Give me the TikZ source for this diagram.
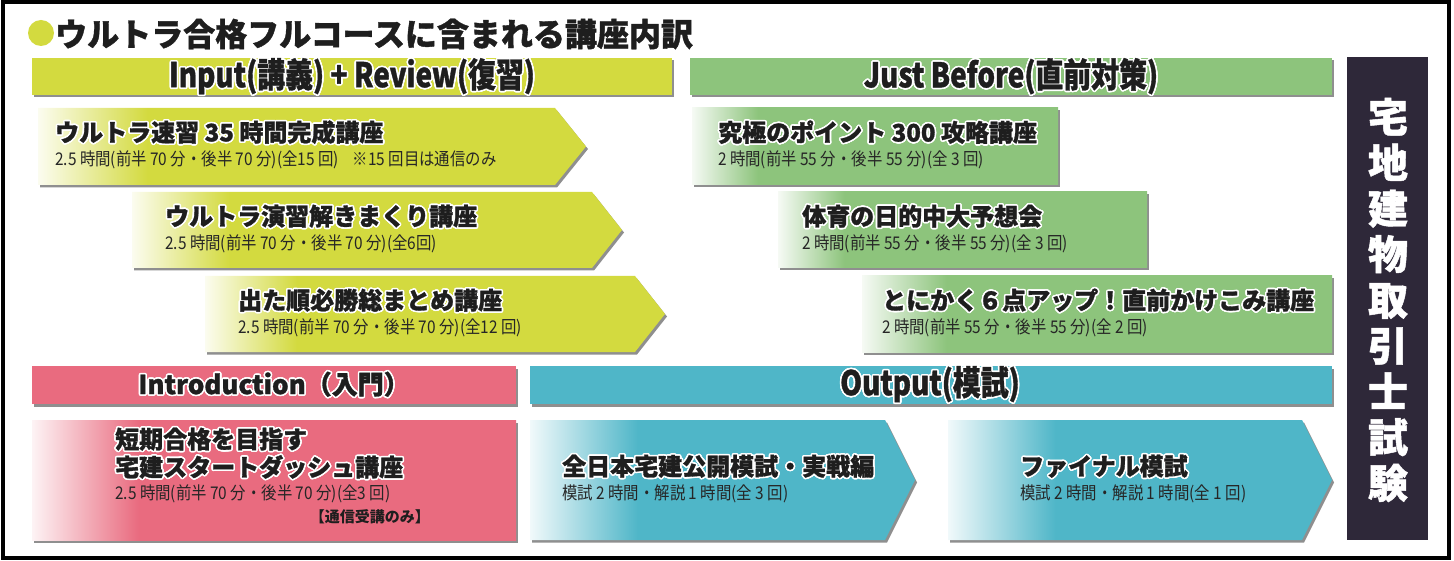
\documentclass[tikz,border=0pt]{standalone}
\usepackage{fontspec}
\usepackage[copies]{contour}
\usetikzlibrary{shadows}
\setmainfont{Noto Sans CJK JP}
\newfontfamily\heavyfont[FakeBold=1.2]{Noto Sans CJK JP}
\newfontfamily\subfont[FakeStretch=0.88]{Noto Sans CJK JP}
\newfontfamily\headfont[FakeStretch=0.82,FakeBold=1]{Noto Sans CJK JP}
\definecolor{kiiro}{HTML}{D3DA3F}
\definecolor{midori}{HTML}{8DC47C}
\definecolor{momo}{HTML}{E96B7F}
\definecolor{ao}{HTML}{4FB6C8}
\definecolor{kon}{HTML}{2E2839}
\definecolor{sumi}{HTML}{1E1E1E}
\pgfdeclarehorizontalshading{kiirofade}{100bp}{color(0bp)=(kiiro!8!white); color(25bp)=(kiiro!8!white); color(35bp)=(kiiro); color(100bp)=(kiiro)}
\pgfdeclarehorizontalshading{midorifade}{100bp}{color(0bp)=(midori!8!white); color(25bp)=(midori!8!white); color(34bp)=(midori); color(100bp)=(midori)}
\pgfdeclarehorizontalshading{momofade}{100bp}{color(0bp)=(momo!8!white); color(25bp)=(momo!8!white); color(36bp)=(momo); color(100bp)=(momo)}
\pgfdeclarehorizontalshading{aofade}{100bp}{color(0bp)=(ao!8!white); color(25bp)=(ao!8!white); color(39bp)=(ao); color(100bp)=(ao)}
\contourlength{1.6pt}
\begin{document}
\begin{tikzpicture}[x=1pt,y=-1pt,
    shadowed/.style={drop shadow={shadow xshift=2pt,shadow yshift=-2.5pt,fill=black!55,opacity=.8}},
    bar/.style={shadowed},
    heading/.style={inner sep=0,text=sumi,font=\headfont\bfseries\fontsize{34}{34}\selectfont},
    koza/.style={inner sep=0,anchor=west,text=sumi,font=\heavyfont\bfseries\fontsize{24}{28}\selectfont},
    kozasub/.style={inner sep=0,anchor=west,text=black!85,font=\subfont\fontsize{17.5}{18}\selectfont}]
  \useasboundingbox (0,0) rectangle (1454,561);
  % frame and title
  \draw[line width=4pt] (2.5,2.5) rectangle (1448.5,557.5);
  \fill[kiiro] (41,33) circle (13);
  \node[inner sep=0,anchor=west,text=sumi,font=\heavyfont\bfseries\fontsize{32}{32}\selectfont] (title) at (55,34)
    {ウルトラ合格フルコースに含まれる講座内訳};

  % section bars
  \fill[kiiro,bar] (32,58) rectangle (672,95);
  \node[heading] (inbar) at (352,77) {\contour{white}{Input(講義) + Review(復習)}};
  \fill[midori,bar] (690,58) rectangle (1332,95);
  \node[heading] (jbbar) at (1011,77) {\contour{white}{Just Before(直前対策)}};
  \fill[momo,bar] (32,366) rectangle (516,404);
  \node[heading,font=\heavyfont\bfseries\fontsize{26}{26}\selectfont] (introbar) at (274,385) {\contour{white}{Introduction（入門）}};
  \fill[ao,bar] (530,366) rectangle (1332,404);
  \node[heading] (outbar) at (930,385) {\contour{white}{Output(模試)}};

  % exam box
  \fill[kon] (1347,57) rectangle (1428,540);
  \node[inner sep=0,align=center,text=white,font=\heavyfont\bfseries\fontsize{40}{45.75}\selectfont] (shiken) at (1388,300)
    {宅\\地\\建\\物\\取\\引\\士\\試\\験};

  % Input + Review
  \shade[shading=kiirofade,shadowed] (38,108) -- (555,108) -- (586,146.5) -- (555,185) -- (38,185) -- cycle;
  \node[koza] (sokushu) at (55,133) {\contour{white}{ウルトラ速習 35 時間完成講座}};
  \node[kozasub] (sokushusub) at (55,160) {2.5 時間(前半 70 分・後半 70 分)(全15 回)\hspace{14pt}※15 回目は通信のみ};
  \shade[shading=kiirofade,shadowed] (132,192) -- (592,192) -- (622,230) -- (592,268) -- (132,268) -- cycle;
  \node[koza] (enshu) at (165,217) {\contour{white}{ウルトラ演習解きまくり講座}};
  \node[kozasub] (enshusub) at (165,244) {2.5 時間(前半 70 分・後半 70 分)(全6回)};
  \shade[shading=kiirofade,shadowed] (205,276) -- (635,276) -- (665,314) -- (635,352) -- (205,352) -- cycle;
  \node[koza] (matome) at (238,301) {\contour{white}{出た順必勝総まとめ講座}};
  \node[kozasub] (matomesub) at (238,328) {2.5 時間(前半 70 分・後半 70 分)(全12 回)};

  % Just Before
  \shade[shading=midorifade,shadowed] (692,108) rectangle (1058,185);
  \node[koza] (point) at (718,133) {\contour{white}{究極のポイント 300 攻略講座}};
  \node[kozasub] (pointsub) at (718,160) {2 時間(前半 55 分・後半 55 分)(全 3 回)};
  \shade[shading=midorifade,shadowed] (778,192) rectangle (1147,268);
  \node[koza] (yoso) at (802,217) {\contour{white}{体育の日的中大予想会}};
  \node[kozasub] (yososub) at (802,244) {2 時間(前半 55 分・後半 55 分)(全 3 回)};
  \shade[shading=midorifade,shadowed] (862,276) rectangle (1332,352);
  \node[koza] (kakekomi) at (882,301) {\contour{white}{とにかく６点アップ！直前かけこみ講座}};
  \node[kozasub] (kakekomisub) at (882,328) {2 時間(前半 55 分・後半 55 分)(全 2 回)};

  % Introduction
  \shade[shading=momofade,shadowed] (32,420) rectangle (516,540);
  \node[koza,align=left] (dash) at (115,454)
    {\contour{white}{短期合格を目指す}\\\contour{white}{宅建スタートダッシュ講座}};
  \node[kozasub] (dashsub) at (115,494) {2.5 時間(前半 70 分・後半 70 分)(全3 回)};
  \node[inner sep=0,anchor=east,text=sumi,font=\bfseries\fontsize{15}{15}\selectfont] (tsushin) at (430,517) {【通信受講のみ】};

  % Output
  \shade[shading=aofade,shadowed] (530,420) -- (885,420) -- (915,480) -- (885,540) -- (530,540) -- cycle;
  \node[koza] (zennihon) at (562,467) {\contour{white}{全日本宅建公開模試・実戦編}};
  \node[kozasub] (zennihonsub) at (562,494) {模試 2 時間・解説 1 時間(全 3 回)};
  \shade[shading=aofade,shadowed] (948,420) -- (1302,420) -- (1332,480) -- (1302,540) -- (948,540) -- cycle;
  \node[koza] (final) at (1020,467) {\contour{white}{ファイナル模試}};
  \node[kozasub] (finalsub) at (1020,494) {模試 2 時間・解説 1 時間(全 1 回)};
\end{tikzpicture}
\end{document}
